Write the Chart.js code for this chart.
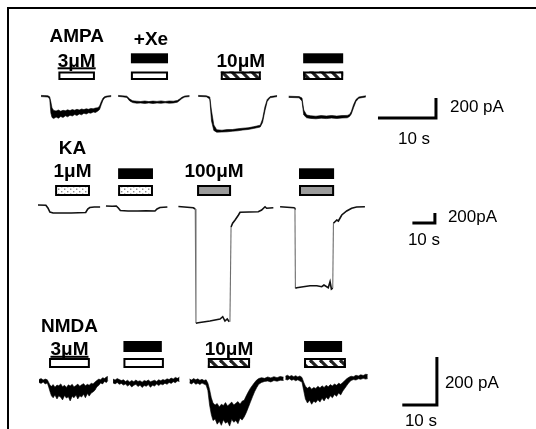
<!DOCTYPE html>
<html><head><meta charset="utf-8">
<script src="https://cdn.jsdelivr.net/npm/chart.js@4.4.1/dist/chart.umd.min.js"></script>
<style>html,body{margin:0;padding:0;background:#fff;overflow:hidden}canvas{display:block}</style>
</head><body>
<canvas id="c" width="536" height="429" style="width:536px;height:429px"></canvas>
<script>
// ---------------- DATA (time in s, current in pA) ----------------
// AMPA row: 3 µM, 3 µM + Xe, 10 µM, 10 µM + Xe  (upper / lower noise envelope)
const A1_t  = [0, 0.6, 1.2, 1.5, 1.7, 1.9, 2.2, 2.6, 3.0, 3.4, 3.8, 4.2, 4.6, 5.0, 5.4, 5.8, 6.2, 6.6, 7.0, 7.4, 7.8, 8.2, 8.6, 9.0, 9.4, 9.8, 10.1, 10.4, 10.7, 11.0, 11.4, 12.1];
const A1_hi = [6, 4, 2, -8, -60, -120, -145, -150, -140, -152, -143, -148, -138, -146, -136, -142, -133, -140, -130, -136, -128, -133, -124, -128, -120, -118, -100, -55, -20, -6, 0, 4];
const A1_lo = [-6, -8, -10, -30, -170, -215, -225, -210, -222, -205, -215, -198, -208, -192, -200, -186, -195, -180, -188, -172, -180, -168, -172, -160, -165, -150, -135, -85, -40, -18, -10, -6];
const A2_t  = [13.3, 14.0, 14.8, 15.3, 15.8, 16.5, 17.2, 17.9, 18.6, 19.3, 20.0, 20.7, 21.4, 22.1, 22.8, 23.5, 23.9, 24.3, 24.8, 25.6];
const A2_hi = [6, 2, -2, -30, -48, -52, -55, -50, -56, -51, -54, -49, -55, -50, -52, -45, -30, -12, 0, 4];
const A2_lo = [-4, -8, -14, -50, -66, -72, -70, -74, -69, -75, -70, -73, -68, -72, -70, -62, -45, -25, -10, -6];
const A3_t  = [27.1, 28.5, 29.1, 29.4, 29.8, 30.3, 31.2, 32.1, 33.0, 33.9, 34.8, 35.7, 36.6, 37.2, 37.8, 38.2, 38.6, 39.0, 39.5, 40.7];
const A3_hi = [6, 2, -10, -150, -290, -338, -342, -336, -335, -328, -322, -318, -308, -300, -292, -230, -110, -35, -6, 4];
const A3_lo = [-4, -8, -30, -250, -345, -362, -360, -358, -352, -348, -340, -335, -325, -318, -310, -265, -150, -55, -18, -6];
const A4_t  = [42.7, 44.5, 45.0, 45.3, 45.8, 46.5, 47.4, 48.3, 49.2, 50.1, 51.0, 51.9, 52.8, 53.2, 53.5, 53.9, 54.3, 54.8, 56.0];
const A4_hi = [-2, -6, -20, -140, -190, -198, -202, -196, -200, -195, -201, -196, -194, -185, -155, -85, -35, -10, 2];
const A4_lo = [-14, -18, -50, -190, -218, -224, -228, -222, -226, -221, -225, -220, -218, -205, -180, -115, -55, -22, -10];
const ampaOn   = [3.0, 15.5, 31.0, 45.2];
const ampaOff  = [9.3, 21.9, 37.9, 52.1];
const ampaConc = [3, 3, 10, 10];
const ampaXeOn  = [15.5, 45.2];
const ampaXeOff = [21.9, 52.1];

// KA row: 1 µM, 1 µM + Xe, 100 µM, 100 µM + Xe
const K1_t = [0, 3.5, 4.4, 5.3, 6.7, 10, 14.8, 18, 21.2, 22.1, 23.0, 25, 27.6];
const K1_i = [20, 15, -40, -120, -140, -140, -140, -135, -130, -60, -30, -20, -20];
const K2_t = [30.2, 33, 34.8, 35.7, 36.6, 40, 44.3, 48, 52.0, 52.9, 54.2, 57.5];
const K2_i = [0, -5, 0, -40, -90, -100, -100, -95, -100, -60, -30, -20];
const K3_t = [62.4, 69.0, 69.9, 70.2, 71.2, 76.4, 80.9, 82.1, 83.1, 84.1, 85.0, 85.3, 85.8, 86.5, 87.6, 89.1, 89.8, 97.9, 99.4, 100.9, 101.6, 104.6];
const K3_i = [-10, -35, -60, -2345, -2335, -2300, -2260, -2215, -2300, -2260, -2315, -2315, -420, -345, -280, -180, -125, -115, -80, -15, -45, -35];
const K4_t = [107.6, 113.8, 114.2, 114.4, 115.0, 117.9, 120.9, 123.9, 126.1, 127.1, 129.0, 129.8, 130.4, 131.0, 131.3, 132.8, 133.5, 135.0, 137.2, 139.4, 141.6, 145.3];
const K4_i = [-15, -35, -50, -1645, -1635, -1615, -1595, -1595, -1615, -1580, -1635, -1515, -1660, -1640, -345, -280, -300, -180, -100, -45, -20, -15];
const kaOn   = [7.6, 35.6, 70.7, 116.0];
const kaOff  = [23.1, 51.1, 85.8, 131.6];
const kaConc = [1, 1, 100, 100];
const kaXeOn  = [35.6, 116.0];
const kaXeOff = [51.1, 131.6];

// NMDA row: 3 µM, 3 µM + Xe, 10 µM, 10 µM + Xe (noise envelope)
const N1_t  = [0, 0.6, 1.2, 1.8, 2.4, 2.8, 3.2, 3.6, 4.1, 4.6, 5.2, 5.7, 6.3, 6.8, 7.4, 7.9, 8.5, 9.0, 9.6, 10.1, 10.7, 11.2, 11.8, 12.3, 12.9, 13.4, 14.0, 14.5, 15.1, 15.6, 16.2, 16.7, 17.3, 17.8, 18.4, 18.9, 19.5, 19.9];
const N1_hi = [6, 10, 4, 8, 5, -6, -18, -22, -15, -26, -17, -20, -12, -24, -18, -27, -16, -21, -14, -25, -19, -13, -22, -16, -11, -20, -14, -18, -9, -12, -4, 2, 8, 5, 14, 10, 17, 19];
const N1_lo = [-6, -10, -4, -12, -8, -25, -45, -62, -70, -58, -75, -62, -68, -79, -60, -71, -66, -83, -64, -70, -58, -75, -62, -67, -55, -70, -52, -63, -50, -46, -38, -25, -18, -8, -12, -2, -6, 2];
const N2_t  = [21.4, 22.0, 22.6, 23.2, 23.8, 24.4, 25.0, 25.6, 26.2, 26.8, 27.4, 28.0, 28.6, 29.2, 29.8, 30.4, 31.0, 31.6, 32.2, 32.8, 33.4, 34.0, 34.6, 35.2, 35.8, 36.4, 37.0, 37.6, 38.2, 38.8, 39.4, 40.0, 40.6];
const N2_hi = [8, 4, 10, 6, 2, 5, -2, 3, -4, 2, -3, 4, -2, 1, -5, 2, -1, 4, -3, 0, 3, -2, 5, 1, 6, 3, 9, 6, 12, 8, 15, 11, 16];
const N2_lo = [-8, -12, -6, -14, -10, -17, -13, -21, -15, -25, -18, -14, -23, -17, -27, -19, -22, -15, -26, -18, -21, -13, -19, -12, -16, -9, -14, -6, -10, -3, -7, 0, -2];
const N3_t  = [43.5, 44.1, 44.7, 45.3, 45.9, 46.5, 47.1, 47.7, 48.3, 48.8, 49.3, 49.8, 50.3, 50.9, 51.5, 52.1, 52.7, 53.3, 53.9, 54.5, 55.1, 55.7, 56.3, 56.9, 57.5, 58.1, 58.7, 59.3, 59.9, 60.5, 61.1, 61.7, 62.3, 62.9, 63.5, 64.3, 65.2, 66.1, 67.0, 67.9, 68.8, 69.7, 70.7];
const N3_hi = [8, 4, 10, 5, 9, 3, 7, 2, 5, -8, -35, -70, -92, -100, -94, -108, -97, -102, -90, -104, -96, -88, -100, -93, -86, -97, -84, -80, -62, -45, -30, -18, -6, 4, 10, 14, 11, 17, 13, 18, 14, 19, 16];
const N3_lo = [-8, -12, -5, -14, -9, -15, -8, -13, -17, -40, -100, -140, -165, -158, -180, -168, -185, -162, -176, -170, -188, -160, -172, -165, -178, -155, -163, -150, -132, -110, -88, -66, -45, -28, -14, -6, -2, 0, -4, 2, -1, 3, 2];
const N4_t  = [71.2, 71.8, 72.4, 73.0, 73.6, 74.2, 74.8, 75.4, 76.0, 76.5, 77.0, 77.6, 78.2, 78.8, 79.4, 80.0, 80.6, 81.2, 81.8, 82.4, 83.0, 83.6, 84.2, 84.8, 85.4, 86.0, 86.6, 87.2, 87.8, 88.4, 89.0, 89.6, 90.2, 90.9, 91.6, 92.3, 93.0, 93.7, 94.4, 95.0];
const N4_hi = [20, 24, 19, 23, 18, 22, 17, 21, 15, -5, -22, -30, -24, -34, -27, -31, -22, -29, -20, -27, -18, -24, -15, -21, -12, -18, -9, -14, -6, 2, 10, 16, 20, 18, 24, 21, 26, 23, 28, 27];
const N4_lo = [7, 4, 9, 3, 6, 1, 5, 0, -4, -40, -75, -92, -80, -97, -84, -90, -78, -88, -72, -83, -68, -76, -62, -70, -56, -64, -50, -58, -42, -30, -18, -6, 2, 6, 4, 9, 7, 11, 8, 10];
const nmdaOn   = [2.9, 24.4, 48.8, 76.6];
const nmdaOff  = [14.7, 36.1, 61.0, 88.7];
const nmdaConc = [3, 3, 10, 10];
const nmdaXeOn  = [24.4, 76.6];
const nmdaXeOff = [35.5, 87.6];

const rowNames = ['AMPA', 'KA', 'NMDA'];
const xeLabel = '+Xe';
const scaleBarSec = 10;
const scaleBarPA = 200;
const scaleBarLabels = [['200 pA', '10 s'], ['200pA', '10 s'], ['200 pA', '10 s']];

// ---------------- LAYOUT / STYLE ----------------
const W = 536, H = 429;
const FONT = '"Liberation Sans", Arial, Helvetica, sans-serif';
const LAYOUT = {
  A: { x0: 41, pxPerS: 5.8, y0: 96, pAPerPx: 10,
       nameY: 42, concY: 66.5, xeLabelY: 45, xe: [53.3, 63.3], box: [71.5, 80],
       sb: { t: 68.1, i: -220, pa: [14, 4], s: [-38, 25.5] } },
  K: { x0: 38, pxPerS: 2.25, y0: 206, pAPerPx: 20,
       nameY: 154, concY: 177, xe: [168.3, 179], box: [185, 196],
       sb: { t: 176.4, i: -340, pa: [13, 3.5], s: [-27, 22] } },
  N: { x0: 39, pxPerS: 3.46, y0: 381, pAPerPx: 4.17,
       nameY: 332, concY: 355, xe: [341, 352], box: [358, 368],
       sb: { t: 115.0, i: -100, pa: [8, 6.5], s: [-32, 21] } }
};
const STYLE = {
  boxFill: { A: ['open', 'open', 'hatch', 'hatch'], K: ['dots', 'dots', 'gray', 'gray'], N: ['open', 'open', 'hatch', 'hatch'] },
  underlineFirst: { A: true, K: false, N: true },
  bandEdge: 0.6, lineWidth: 1.6, steepWidth: 1.1
};

// ---------------- build chart ----------------
function pts(t, v) { return t.map((x, i) => ({ x: x, y: v[i] })); }
const datasets = [];
function addBand(row, t, hi, lo) {
  const base = { type: 'line', xAxisID: 'x' + row, yAxisID: 'y' + row, borderColor: '#000',
                 borderWidth: STYLE.bandEdge, pointRadius: 0, tension: 0 };
  datasets.push(Object.assign({}, base, { data: pts(t, lo), fill: false }));
  datasets.push(Object.assign({}, base, { data: pts(t, hi), fill: '-1', backgroundColor: '#000' }));
}
function isSteep(c) { return Math.abs(c.p1.y - c.p0.y) > 6 * Math.abs(c.p1.x - c.p0.x) && Math.abs(c.p1.y - c.p0.y) > 12; }
function addLine(row, t, v) {
  datasets.push({ type: 'line', xAxisID: 'x' + row, yAxisID: 'y' + row, borderColor: '#111',
                  borderWidth: STYLE.lineWidth, pointRadius: 0, tension: 0, fill: false, data: pts(t, v),
                  segment: {
                    borderColor: c => isSteep(c) ? '#6e6e6e' : '#111',
                    borderWidth: c => isSteep(c) ? STYLE.steepWidth : STYLE.lineWidth
                  } });
}
addBand('A', A1_t, A1_hi, A1_lo); addBand('A', A2_t, A2_hi, A2_lo);
addBand('A', A3_t, A3_hi, A3_lo); addBand('A', A4_t, A4_hi, A4_lo);
addLine('K', K1_t, K1_i); addLine('K', K2_t, K2_i); addLine('K', K3_t, K3_i); addLine('K', K4_t, K4_i);
addBand('N', N1_t, N1_hi, N1_lo); addBand('N', N2_t, N2_hi, N2_lo);
addBand('N', N3_t, N3_hi, N3_lo); addBand('N', N4_t, N4_hi, N4_lo);

const scales = {};
for (const r of ['A', 'K', 'N']) {
  const L = LAYOUT[r];
  scales['x' + r] = { type: 'linear', axis: 'x', display: false, bounds: 'data', grace: 0,
                      min: -L.x0 / L.pxPerS, max: (W - L.x0) / L.pxPerS };
  scales['y' + r] = { type: 'linear', axis: 'y', display: false, bounds: 'data', grace: 0,
                      min: -(H - L.y0) * L.pAPerPx, max: L.y0 * L.pAPerPx };
}

const rowApps = {
  A: { on: ampaOn, off: ampaOff, conc: ampaConc, xeOn: ampaXeOn, xeOff: ampaXeOff, name: rowNames[0], sbl: scaleBarLabels[0] },
  K: { on: kaOn, off: kaOff, conc: kaConc, xeOn: kaXeOn, xeOff: kaXeOff, name: rowNames[1], sbl: scaleBarLabels[1] },
  N: { on: nmdaOn, off: nmdaOff, conc: nmdaConc, xeOn: nmdaXeOn, xeOff: nmdaXeOff, name: rowNames[2], sbl: scaleBarLabels[2] }
};

function makePattern(ctx, kind) {
  const c = document.createElement('canvas');
  const g = c.getContext('2d');
  if (kind === 'hatch') {
    c.width = 10; c.height = 10;
    g.fillStyle = '#fff'; g.fillRect(0, 0, 10, 10);
    g.strokeStyle = '#222'; g.lineWidth = 3.2;
    for (const o of [-10, 0, 10]) { g.beginPath(); g.moveTo(o, 0); g.lineTo(o + 10, 10); g.stroke(); }
  } else {
    c.width = 6; c.height = 5;
    g.fillStyle = '#fff'; g.fillRect(0, 0, 6, 5);
    g.fillStyle = '#8a8a8a'; g.fillRect(1, 1, 1.4, 1.4); g.fillRect(4, 3.5, 1.4, 1.4);
  }
  return ctx.createPattern(c, 'repeat');
}

const overlay = {
  id: 'overlay',
  beforeDraw(chart) {
    const ctx = chart.ctx;
    ctx.save();
    ctx.fillStyle = '#fff'; ctx.fillRect(0, 0, W, H);
    ctx.fillStyle = '#000';
    ctx.fillRect(7, 7, W - 7, 2);
    ctx.fillRect(7, 7, 2, H - 7);
    ctx.restore();
  },
  afterDatasetsDraw(chart) {
    const ctx = chart.ctx;
    const pats = { hatch: makePattern(ctx, 'hatch'), dots: makePattern(ctx, 'dots'), gray: '#9b9b9b', open: '#fff' };
    ctx.save();
    for (const r of ['A', 'K', 'N']) {
      const L = LAYOUT[r], ap = rowApps[r];
      const xs = chart.scales['x' + r], ys = chart.scales['y' + r];
      ap.on.forEach((on, i) => {
        const x1 = xs.getPixelForValue(on), x2 = xs.getPixelForValue(ap.off[i]);
        ctx.fillStyle = pats[STYLE.boxFill[r][i]];
        ctx.fillRect(x1, L.box[0], x2 - x1, L.box[1] - L.box[0]);
        ctx.strokeStyle = '#000'; ctx.lineWidth = 2;
        ctx.strokeRect(x1 + 1, L.box[0] + 1, x2 - x1 - 2, L.box[1] - L.box[0] - 2);
      });
      ap.xeOn.forEach((on, i) => {
        const x1 = xs.getPixelForValue(on), x2 = xs.getPixelForValue(ap.xeOff[i]);
        ctx.fillStyle = '#000';
        ctx.fillRect(x1, L.xe[0], x2 - x1, L.xe[1] - L.xe[0]);
      });
      ctx.fillStyle = '#000';
      ctx.font = 'bold 19px ' + FONT;
      ctx.textAlign = 'center'; ctx.textBaseline = 'alphabetic';
      const c0 = (xs.getPixelForValue(ap.on[0]) + xs.getPixelForValue(ap.off[0])) / 2;
      ctx.fillText(ap.name, c0, L.nameY);
      let first = true;
      ap.on.forEach((on, i) => {
        if (ap.xeOn.includes(on)) return;
        const cx = (xs.getPixelForValue(on) + xs.getPixelForValue(ap.off[i])) / 2;
        const txt = ap.conc[i] + 'μM';
        ctx.fillText(txt, cx, L.concY);
        if (first && STYLE.underlineFirst[r]) {
          const w = ctx.measureText(txt).width;
          ctx.fillRect(cx - w / 2, L.concY + 0.8, w, 2);
        }
        first = false;
      });
      if (L.xeLabelY) {
        const cx = (xs.getPixelForValue(ap.xeOn[0]) + xs.getPixelForValue(ap.xeOff[0])) / 2;
        ctx.fillText(xeLabel, cx + 1.5, L.xeLabelY);
      }
      const cx = xs.getPixelForValue(L.sb.t), cy = ys.getPixelForValue(L.sb.i);
      const lx = xs.getPixelForValue(L.sb.t - scaleBarSec), ty = ys.getPixelForValue(L.sb.i + scaleBarPA);
      ctx.strokeStyle = '#000'; ctx.lineWidth = 3; ctx.lineJoin = 'miter'; ctx.lineCap = 'butt';
      ctx.beginPath(); ctx.moveTo(lx, cy); ctx.lineTo(cx, cy); ctx.lineTo(cx, ty); ctx.stroke();
      ctx.font = '17px ' + FONT; ctx.textAlign = 'left';
      ctx.fillText(ap.sbl[0], cx + L.sb.pa[0], (cy + ty) / 2 + L.sb.pa[1]);
      ctx.fillText(ap.sbl[1], cx + L.sb.s[0], cy + L.sb.s[1]);
    }
    ctx.restore();
  }
};

new Chart(document.getElementById('c'), {
  type: 'line',
  data: { datasets: datasets },
  options: {
    responsive: false, maintainAspectRatio: false, animation: false, devicePixelRatio: 1,
    events: [], layout: { padding: 0 },
    plugins: { legend: { display: false }, tooltip: { enabled: false }, title: { display: false } },
    scales: scales
  },
  plugins: [overlay]
});
</script>
</body></html>
